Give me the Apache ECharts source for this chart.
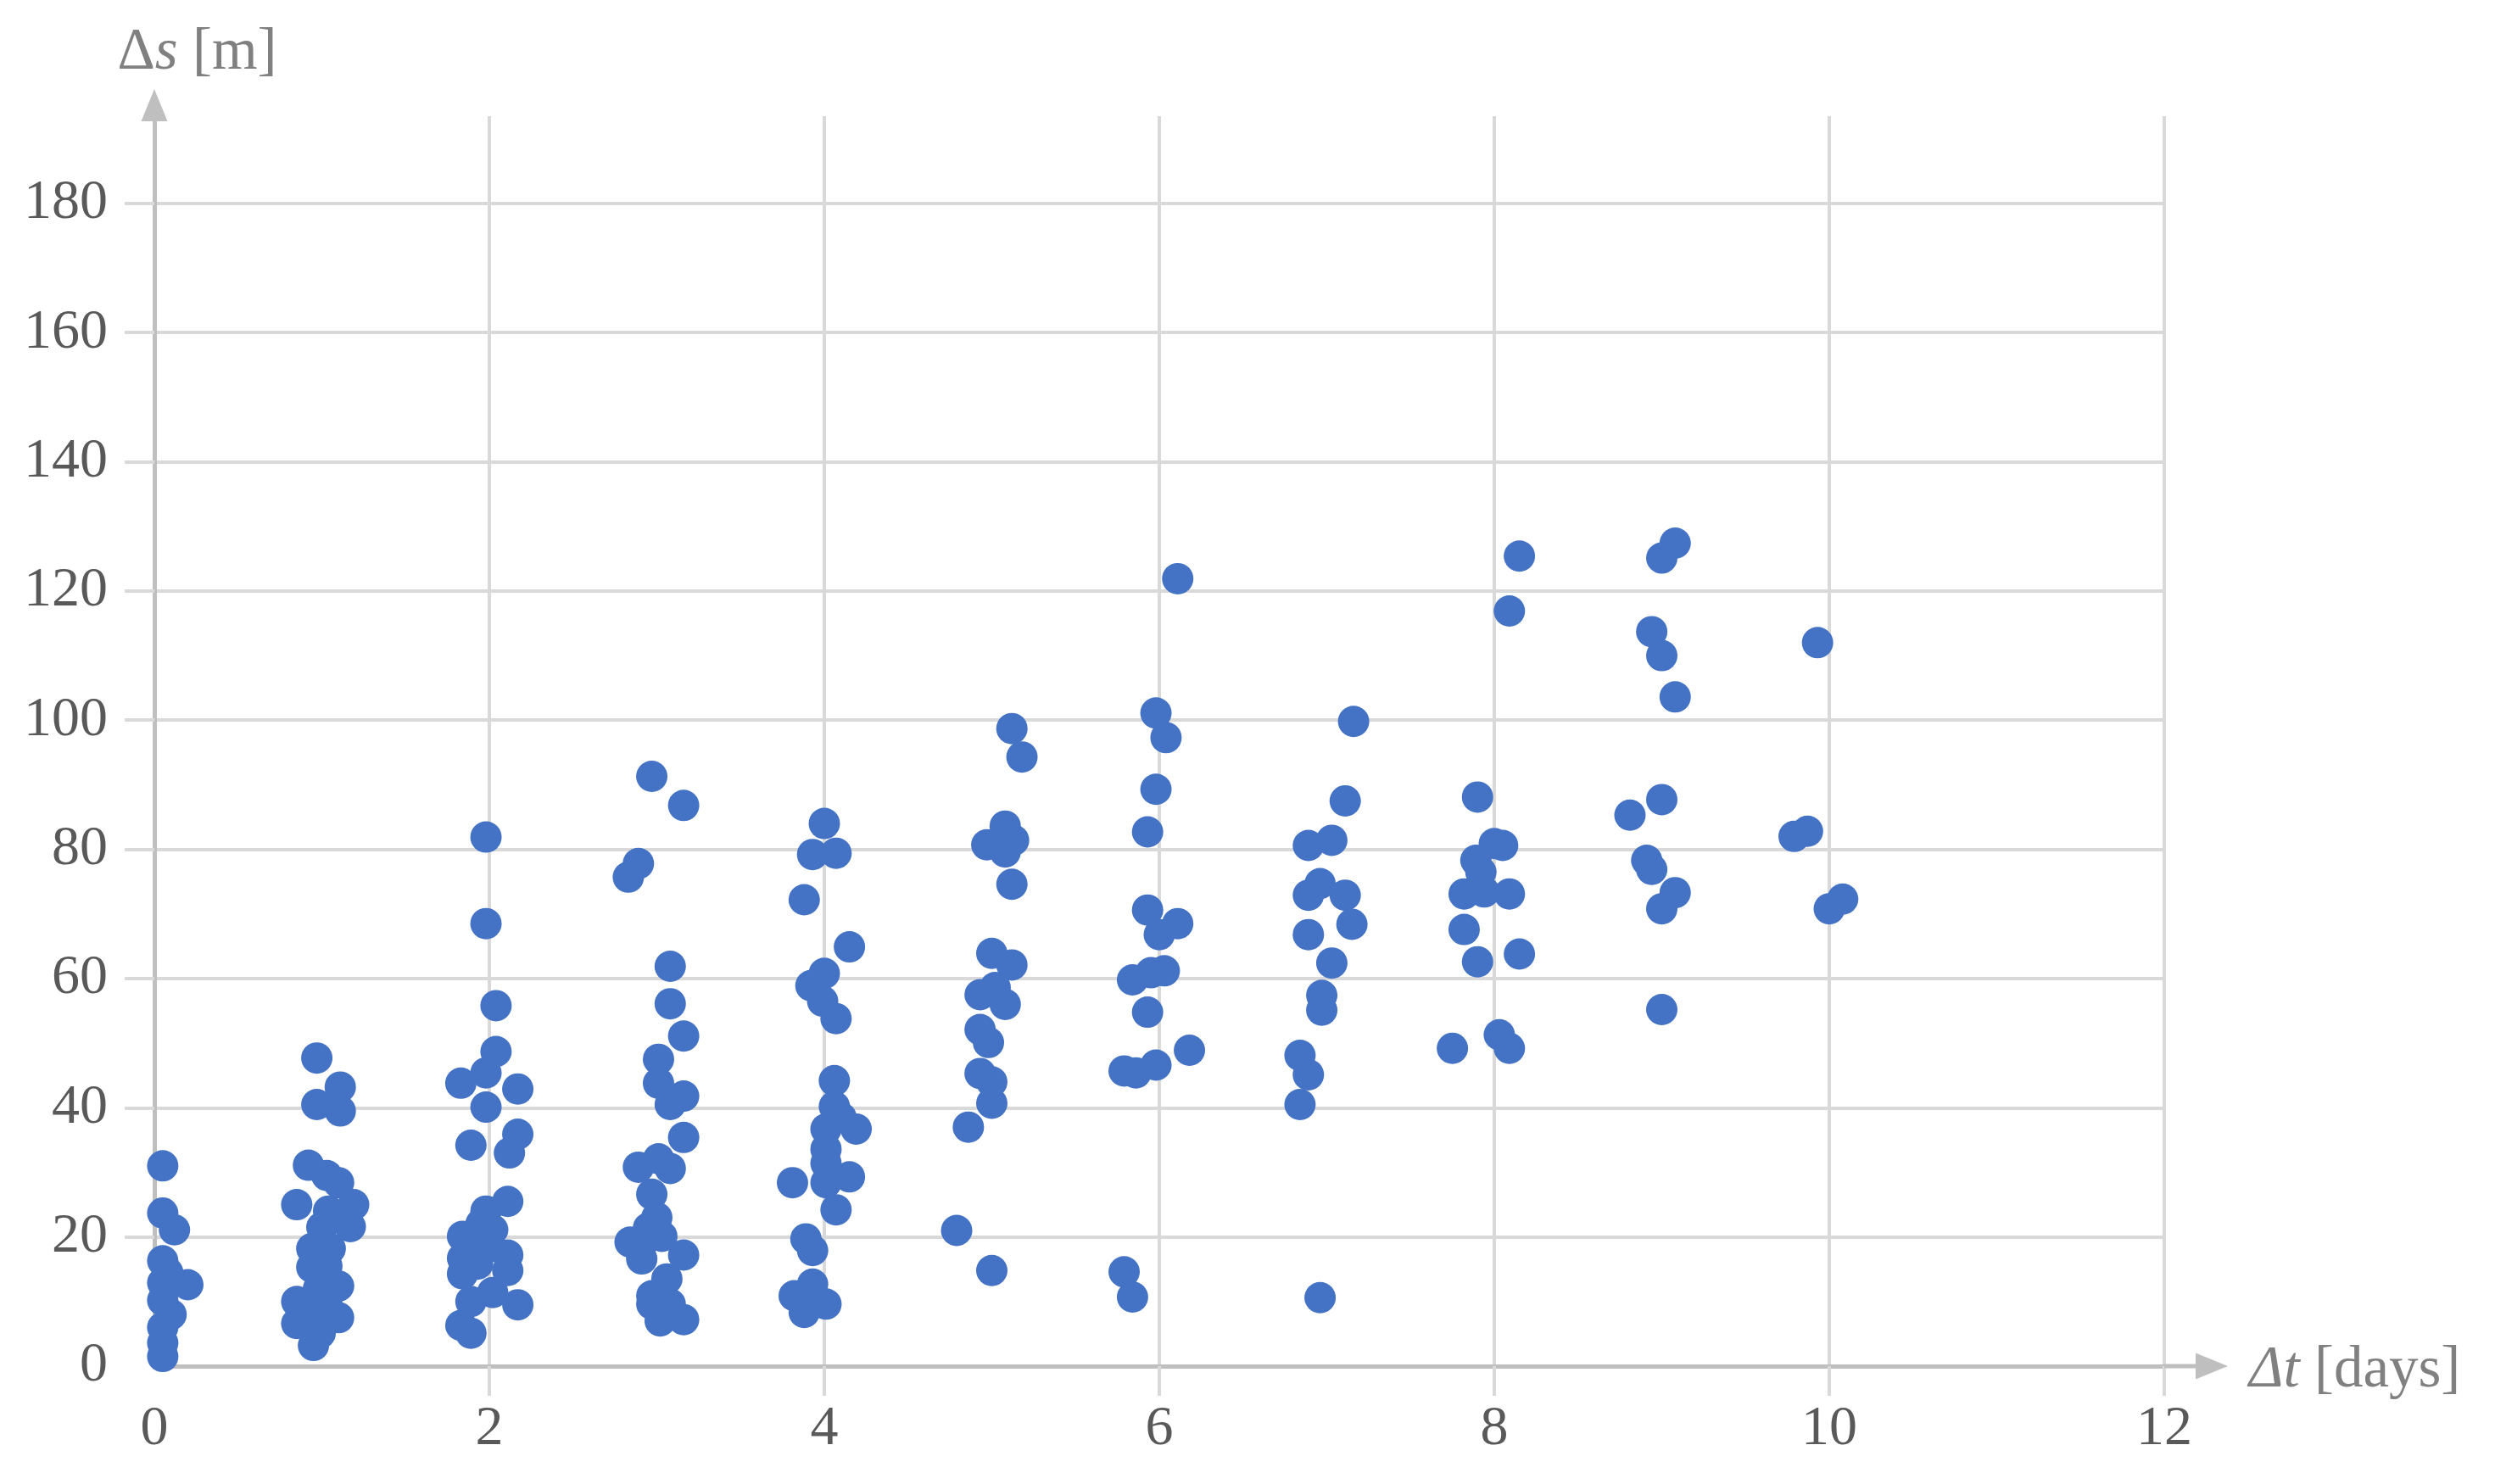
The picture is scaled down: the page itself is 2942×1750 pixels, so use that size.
<!DOCTYPE html>
<html>
<head>
<meta charset="utf-8">
<title>Δs vs Δt</title>
<script src="https://cdn.jsdelivr.net/npm/echarts@6/dist/echarts.min.js"></script>
<style>
html, body { margin: 0; padding: 0; background: #fff; }
#chart { width: 2942px; height: 1750px; }
</style>
</head>
<body>
<div id="chart"></div>
<script>
// time gap between observations [days]
var dtDays = [
  // ~0 days
  0.05, 0.05, 0.12, 0.05, 0.20, 0.05, 0.10, 0.05, 0.05, 0.05, 0.05, 0.08,
  // ~1 day
  0.97, 1.11, 0.97, 1.11, 0.92, 1.10, 1.03, 0.85, 1.19, 1.04, 1.17, 1.00, 0.94,
  1.05, 0.94, 1.03, 1.10, 0.98, 0.85, 1.03, 1.10, 0.85, 0.96, 0.99, 0.95,
  // ~2 days
  1.98, 1.98, 2.04, 2.04, 1.98, 1.83, 2.17, 1.98, 1.89, 2.17, 2.12, 2.11, 1.98,
  2.02, 1.84, 2.11, 1.84, 1.93, 1.84, 2.11, 2.02, 1.89, 2.17, 1.83, 1.89, 2.00, 1.95,
  // ~3 days
  2.97, 3.16, 2.89, 2.83, 3.08, 3.08, 3.16, 3.01, 3.01, 3.08, 3.16, 3.16, 2.89,
  3.01, 3.08, 2.97, 2.84, 2.95, 3.03, 3.16, 2.91, 3.06, 2.97, 2.97, 3.02, 3.16,
  3.08, 2.90, 3.00,
  // ~4 days
  4.00, 3.93, 4.07, 3.88, 4.15, 4.00, 3.92, 3.99, 4.07, 4.06, 4.06, 4.19, 4.01,
  4.10, 4.01, 4.01, 4.15, 4.01, 4.07, 3.81, 3.89, 3.93, 3.82, 3.93, 4.01, 3.88,
  // ~5 days
  5.12, 5.18, 5.08, 4.97, 5.13, 5.08, 5.12, 5.00, 5.12, 4.93, 5.02, 5.08, 4.93,
  4.98, 4.93, 5.00, 5.00, 4.86, 4.79, 5.00,
  // ~6 days
  6.11, 5.98, 6.04, 5.98, 5.93, 5.93, 6.11, 6.00, 6.03, 5.84, 5.95, 5.93, 6.18,
  5.98, 5.79, 5.86, 5.79, 5.84,
  // ~7 days
  7.16, 7.11, 6.89, 7.03, 6.96, 6.89, 7.11, 7.15, 6.89, 7.03, 6.97, 6.97, 6.84,
  6.89, 6.84, 6.96,
  // ~8 days
  8.15, 8.09, 7.90, 8.00, 8.05, 7.89, 7.92, 7.82, 7.94, 8.09, 7.82, 7.90, 8.15,
  7.75, 8.03, 8.09,
  // ~9 days
  9.08, 9.00, 8.94, 9.00, 9.08, 8.81, 9.00, 8.91, 8.94, 9.08, 9.00, 9.00,
  // ~10 days
  9.93, 9.79, 9.87, 10.00, 10.08
];

// displacement [m], same order as dtDays
var dsMeters = [
  31.0, 23.7, 21.1, 16.3, 12.6, 12.9, 8.0, 10.2, 6.0, 3.6, 1.5, 14.5,
  47.7, 43.2, 40.5, 39.5, 31.1, 28.4, 29.5, 25.0, 25.0, 24.0, 21.6, 21.5, 18.2,
  18.2, 15.3, 15.5, 12.4, 12.0, 10.0, 9.6, 7.5, 6.6, 8.2, 5.1, 3.2,
  81.9, 68.5, 55.8, 48.7, 45.4, 43.8, 42.9, 40.1, 34.2, 35.9, 33.0, 25.5, 24.0,
  21.1, 20.1, 17.2, 16.7, 15.8, 14.3, 14.8, 11.4, 10.0, 9.5, 6.3, 5.1, 18.5, 22.0,
  91.3, 86.8, 77.8, 75.7, 61.9, 56.1, 51.1, 47.5, 43.8, 40.5, 41.8, 35.4, 30.8,
  32.1, 30.6, 26.6, 19.2, 21.4, 20.1, 17.2, 16.6, 13.5, 10.9, 9.6, 7.0, 7.2,
  9.6, 18.0, 23.0,
  84.0, 79.2, 79.4, 72.2, 64.9, 60.8, 58.9, 56.5, 53.8, 44.2, 40.2, 36.7, 36.7,
  38.5, 33.6, 31.4, 29.3, 28.4, 24.2, 28.4, 19.7, 17.9, 10.9, 12.7, 9.6, 8.3,
  98.7, 94.3, 83.6, 80.7, 81.4, 79.6, 74.6, 63.9, 62.1, 57.5, 58.6, 56.0, 52.1,
  50.1, 45.3, 44.0, 40.7, 37.0, 21.0, 14.8,
  121.9, 101.1, 97.3, 89.3, 82.7, 70.6, 68.5, 66.8, 61.2, 59.8, 60.9, 54.8, 48.9,
  46.6, 45.7, 45.4, 14.6, 10.7,
  99.8, 87.5, 80.6, 81.4, 74.7, 72.9, 72.9, 68.4, 66.8, 62.4, 57.4, 55.1, 48.1,
  45.1, 40.5, 10.6,
  125.4, 116.9, 88.1, 80.9, 80.6, 78.3, 76.5, 73.1, 73.4, 73.1, 67.6, 62.6, 63.8,
  49.2, 51.3, 49.2,
  127.4, 125.1, 113.7, 110.0, 103.6, 85.3, 87.7, 78.3, 76.9, 73.3, 70.8, 55.2,
  112.0, 82.0, 82.8, 70.8, 72.3
];

// tick marks outside the plot (no tick at the origin)
var xTickValues = [2, 4, 6, 8, 10, 12];
var yTickValues = [20, 40, 60, 80, 100, 120, 140, 160, 180];
var yLabelValues = [0, 20, 40, 60, 80, 100, 120, 140, 160, 180];

var serif = '"Liberation Serif", "DejaVu Serif", serif';
var axisGrey = '#bfbfbf';
var gridGrey = '#d9d9d9';
var labelGrey = '#595959';
var nameGrey = '#808080';

var points = dtDays.map(function (t, i) { return [t, dsMeters[i]]; });

var chart = echarts.init(document.getElementById('chart'));

var option = {
  backgroundColor: '#fff',
  animation: false,
  grid: { left: 182, right: 390, top: 137, bottom: 139, outerBoundsMode: 'none' },
  xAxis: {
    type: 'value',
    min: 0,
    max: 12,
    interval: 2,
    name: '{i|Δt}{a| [days]}',
    nameLocation: 'end',
    nameGap: 100,
    nameTextStyle: {
      padding: [12, 0, 0, 0],
      rich: {
        i: { fontFamily: serif, fontSize: 69, fontStyle: 'italic', color: nameGrey },
        a: { fontFamily: serif, fontSize: 69, color: nameGrey }
      }
    },
    axisLine: {
      lineStyle: { color: axisGrey, width: 5 },
      symbol: ['none', 'triangle'],
      symbolSize: [31, 38],
      symbolOffset: [0, 56]
    },
    axisTick: {
      show: true,
      length: 35,
      customValues: xTickValues,
      lineStyle: { color: gridGrey, width: 4 }
    },
    axisLabel: {
      margin: 42,
      fontFamily: serif,
      fontSize: 66,
      color: labelGrey
    },
    splitLine: { show: true, lineStyle: { color: gridGrey, width: 4 } }
  },
  yAxis: {
    type: 'value',
    min: 0,
    max: 193.5,
    interval: 20,
    name: '{a|Δ}{i|s}{a| [m]}',
    nameLocation: 'end',
    nameGap: 40,
    nameTextStyle: {
      padding: [0, 0, 0, 101],
      rich: {
        i: { fontFamily: serif, fontSize: 69, fontStyle: 'italic', color: nameGrey },
        a: { fontFamily: serif, fontSize: 69, color: nameGrey }
      }
    },
    axisLine: {
      lineStyle: { color: axisGrey, width: 5 },
      symbol: ['none', 'triangle'],
      symbolSize: [31, 38],
      symbolOffset: [0, 13]
    },
    axisTick: {
      show: true,
      length: 35,
      customValues: yTickValues,
      lineStyle: { color: gridGrey, width: 4 }
    },
    axisLabel: {
      margin: 55,
      customValues: yLabelValues,
      fontFamily: serif,
      fontSize: 66,
      color: labelGrey
    },
    splitLine: { show: true, lineStyle: { color: gridGrey, width: 4 } }
  },
  series: [{
    type: 'scatter',
    data: points,
    symbol: 'circle',
    symbolSize: 37,
    itemStyle: { color: '#4472C4', opacity: 1 },
    z: 5
  }]
};

chart.setOption(option);

// the x axis line runs on past 12 up to the arrow head
var end = chart.convertToPixel({ gridIndex: 0 }, [12, 0]);
chart.setOption({
  graphic: [{
    type: 'line',
    shape: { x1: end[0], y1: end[1], x2: end[0] + 44, y2: end[1] },
    style: { stroke: axisGrey, lineWidth: 5 },
    z: 1
  }]
});
</script>
</body>
</html>
